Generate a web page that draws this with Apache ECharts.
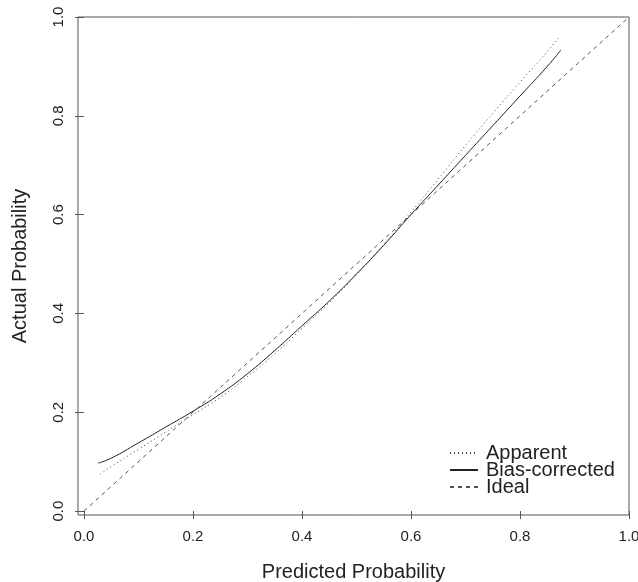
<!DOCTYPE html>
<html>
<head>
<meta charset="utf-8">
<script src="https://cdn.jsdelivr.net/npm/echarts@6/dist/echarts.min.js"></script>
<style>html,body{margin:0;padding:0;background:#fff}#c{width:638px;height:582px}</style>
</head>
<body>
<div id="c"></div>
<script>
const tickValues = [0, 0.2, 0.4, 0.6, 0.8, 1.0];
const apparent = [[0.03,0.075],[0.05,0.09],[0.1,0.125],[0.15,0.16],[0.2,0.195],[0.25,0.23],[0.3,0.272],[0.35,0.318],[0.4,0.37],[0.45,0.422],[0.5,0.478],[0.55,0.54],[0.6,0.605],[0.65,0.672],[0.7,0.74],[0.75,0.805],[0.8,0.868],[0.85,0.93],[0.872,0.96]];
const biasCorrected = [[0.026,0.097],[0.05,0.107],[0.1,0.138],[0.15,0.17],[0.2,0.202],[0.25,0.237],[0.3,0.278],[0.35,0.325],[0.4,0.375],[0.45,0.425],[0.5,0.48],[0.55,0.538],[0.6,0.6],[0.65,0.66],[0.7,0.72],[0.75,0.78],[0.8,0.84],[0.85,0.9],[0.875,0.933]];
const ideal = [[0,0],[1,1]];

const font = 'Liberation Sans, Arial, Helvetica, sans-serif';
const chart = echarts.init(document.getElementById('c'), null, {renderer: 'canvas'});
chart.setOption({
  animation: false,
  backgroundColor: '#fff',
  grid: {left: 78, top: 17, right: 9, bottom: 67, show: true, borderColor: '#555', borderWidth: 1, containLabel: false, outerBoundsMode: 'none'},
  xAxis: {
    type: 'value', min: -0.011, max: 1.0,
    name: 'Predicted Probability', nameLocation: 'middle', nameGap: 47,
    nameTextStyle: {fontFamily: font, fontSize: 20, color: '#222'},
    axisLine: {show: false},
    splitLine: {show: false},
    axisTick: {show: true, length: 8, inside: false, lineStyle: {color: '#555'}, customValues: tickValues},
    axisLabel: {customValues: tickValues, formatter: v => v.toFixed(1), fontFamily: font, fontSize: 15, color: '#222', margin: 14}
  },
  yAxis: {
    type: 'value', min: -0.008, max: 1.0,
    name: 'Actual Probability', nameLocation: 'middle', nameGap: 48,
    nameTextStyle: {fontFamily: font, fontSize: 20, color: '#222'},
    axisLine: {show: false},
    splitLine: {show: false},
    axisTick: {show: true, length: 9, inside: false, lineStyle: {color: '#555'}, customValues: tickValues},
    axisLabel: {customValues: tickValues, rotate: 90, formatter: v => v.toFixed(1), fontFamily: font, fontSize: 15, color: '#222', margin: 12}
  },
  legend: {
    orient: 'vertical', left: 444, top: 438, itemWidth: 28, itemHeight: 10, itemGap: -3,
    itemStyle: {opacity: 0},
    textStyle: {fontFamily: font, fontSize: 20, color: '#222', lineHeight: 17, padding: [0, 0, 0, 3]},
    data: ['Apparent', 'Bias-corrected', 'Ideal']
  },
  series: [
    {name: 'Apparent', type: 'line', data: apparent, smooth: true, symbol: 'none', lineStyle: {color: '#444', width: 1, type: [1, 3]}, itemStyle: {color: '#444'}},
    {name: 'Bias-corrected', type: 'line', data: biasCorrected, smooth: true, symbol: 'none', lineStyle: {color: '#222', width: 1, type: 'solid'}, itemStyle: {color: '#222'}},
    {name: 'Ideal', type: 'line', data: ideal, symbol: 'none', lineStyle: {color: '#555', width: 1, type: [4, 4]}, itemStyle: {color: '#555'}}
  ]
});
</script>
</body>
</html>
